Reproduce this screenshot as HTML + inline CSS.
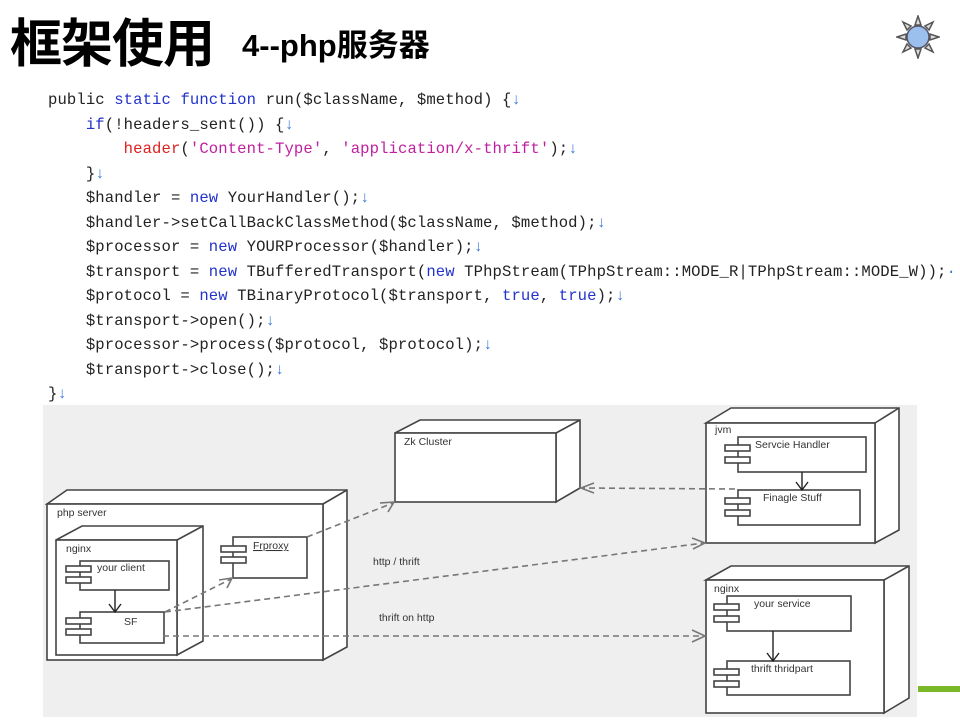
<!DOCTYPE html>
<html><head><meta charset="utf-8"><style>
body{margin:0;width:960px;height:720px;background:#fff;position:relative;overflow:hidden;font-family:"Liberation Sans","Noto Sans CJK SC",sans-serif}
.t{position:absolute;left:10px;top:14px;font-size:52px;font-weight:bold;color:#000;font-family:"Noto Sans CJK SC",sans-serif;line-height:1;letter-spacing:-1px}
.t2{position:absolute;left:242px;top:30px;font-size:31px;font-weight:bold;font-family:"Liberation Sans","Noto Sans CJK SC",sans-serif;line-height:1}
pre{position:absolute;left:48px;top:88px;margin:0;font-family:"Liberation Mono",monospace;font-size:15.6px;line-height:24.5px;color:#222;letter-spacing:0.1px}
.k{color:#2233cc}.r{color:#dd2020}.m{color:#c020a0}.a{color:#3a7ad8}
</style></head><body>
<div class="t">框架使用</div><div class="t2">4--php服务器</div>
<svg style="position:absolute;left:896px;top:15px" width="44" height="44" viewBox="0 0 44 44">
<g stroke="#555" stroke-width="1.5" fill="#ddd"><polygon points="22,1 25,10 19,10"/><polygon points="22,43 25,34 19,34"/><polygon points="1,22 10,19 10,25"/><polygon points="43,22 34,19 34,25"/><polygon points="7,7 15,11 11,15"/><polygon points="37,37 29,33 33,29"/><polygon points="37,7 33,15 29,11"/><polygon points="7,37 11,29 15,33"/></g>
<circle cx="22" cy="22" r="11" fill="#9cc0ee" stroke="#556" stroke-width="1.5"/></svg>
<pre>public <span class="k">static</span> <span class="k">function</span> run($className, $method) {<span class="a">↓</span>
    <span class="k">if</span>(!headers_sent()) {<span class="a">↓</span>
        <span class="r">header</span>(<span class="m">'Content-Type'</span>, <span class="m">'application/x-thrift'</span>);<span class="a">↓</span>
    }<span class="a">↓</span>
    $handler = <span class="k">new</span> YourHandler();<span class="a">↓</span>
    $handler->setCallBackClassMethod($className, $method);<span class="a">↓</span>
    $processor = <span class="k">new</span> YOURProcessor($handler);<span class="a">↓</span>
    $transport = <span class="k">new</span> TBufferedTransport(<span class="k">new</span> TPhpStream(TPhpStream::MODE_R|TPhpStream::MODE_W));<span class="a">·</span>
    $protocol = <span class="k">new</span> TBinaryProtocol($transport, <span class="k">true</span>, <span class="k">true</span>);<span class="a">↓</span>
    $transport->open();<span class="a">↓</span>
    $processor->process($protocol, $protocol);<span class="a">↓</span>
    $transport->close();<span class="a">↓</span>
}<span class="a">↓</span></pre>
<svg style="position:absolute;left:0;top:0" width="960" height="720" viewBox="0 0 960 720">
<rect x="43" y="405" width="874" height="312" fill="#efefef"/>
<rect x="918" y="686" width="42" height="6" fill="#7ab828"/>
<g fill="#fff" stroke="#444" stroke-width="1.6">
<polygon points="47,504 67,490 347,490 347,647 323,660 323,504"/><line x1="323" y1="504" x2="347" y2="490"/>
<rect x="47" y="504" width="276" height="156"/>
<polygon points="56,540 82,526 203,526 203,641 177,655 177,540"/><line x1="177" y1="540" x2="203" y2="526"/>
<rect x="56" y="540" width="121" height="115"/>
<rect x="80" y="561" width="89" height="29"/><rect x="66" y="566" width="25" height="6"/><rect x="66" y="577" width="25" height="6"/>
<rect x="80" y="612" width="84" height="31"/><rect x="66" y="618" width="25" height="6"/><rect x="66" y="629" width="25" height="6"/>
<rect x="233" y="537" width="74" height="41"/><rect x="221" y="546" width="25" height="6"/><rect x="221" y="557" width="25" height="6"/>
<polygon points="395,433 420,420 580,420 580,488 556,502 556,433"/><line x1="556" y1="433" x2="580" y2="420"/>
<rect x="395" y="433" width="161" height="69"/>
<polygon points="706,423 731,408 899,408 899,530 875,543 875,423"/><line x1="875" y1="423" x2="899" y2="408"/>
<rect x="706" y="423" width="169" height="120"/>
<rect x="738" y="437" width="128" height="35"/><rect x="725" y="445" width="25" height="6"/><rect x="725" y="457" width="25" height="6"/>
<rect x="738" y="490" width="122" height="35"/><rect x="725" y="498" width="25" height="6"/><rect x="725" y="510" width="25" height="6"/>
<polygon points="706,580 731,566 909,566 909,698 884,713 884,580"/><line x1="884" y1="580" x2="909" y2="566"/>
<rect x="706" y="580" width="178" height="133"/>
<rect x="727" y="596" width="124" height="35"/><rect x="714" y="604" width="25" height="6"/><rect x="714" y="616" width="25" height="6"/>
<rect x="727" y="661" width="123" height="34"/><rect x="714" y="669" width="25" height="6"/><rect x="714" y="681" width="25" height="6"/>
</g>
<g stroke="#222" stroke-width="1.4" fill="none">
<line x1="115" y1="590" x2="115" y2="612"/><polyline points="109,604 115,612 121,604"/>
<line x1="802" y1="472" x2="802" y2="490"/><polyline points="796,482 802,490 808,482"/>
<line x1="773" y1="631" x2="773" y2="661"/><polyline points="767,653 773,661 779,653"/>
</g>
<g stroke="#777" stroke-width="1.6" fill="none" stroke-dasharray="6,4">
<line x1="307" y1="537" x2="393" y2="503"/>
<line x1="165" y1="612" x2="231" y2="579"/>
<line x1="165" y1="612" x2="704" y2="543"/>
<line x1="163" y1="636" x2="704" y2="636"/>
<line x1="735" y1="489" x2="582" y2="488"/>
</g>
<g stroke="#777" stroke-width="1.6" fill="none">
<polyline points="380,503 394,502 388,512"/>
<polyline points="219,580 232,578 227,588"/>
<polyline points="692,538 705,543 693,549"/>
<polyline points="692,630 705,636 692,642"/>
<polyline points="594,483 581,488 594,493"/>
</g>
<g font-family="Liberation Sans,sans-serif" font-size="10.5" fill="#333">
<text x="57" y="516">php server</text><text x="66" y="552">nginx</text>
<text x="97" y="571">your client</text><text x="124" y="625">SF</text>
<text x="253" y="549" text-decoration="underline">Frproxy</text>
<text x="404" y="445">Zk Cluster</text>
<text x="715" y="433">jvm</text><text x="755" y="448">Servcie Handler</text><text x="763" y="501">Finagle Stuff</text>
<text x="714" y="592">nginx</text><text x="754" y="607">your service</text><text x="751" y="672">thrift thridpart</text>
<text x="373" y="565">http / thrift</text><text x="379" y="621">thrift on http</text>
</g>
</svg>
</body></html>
